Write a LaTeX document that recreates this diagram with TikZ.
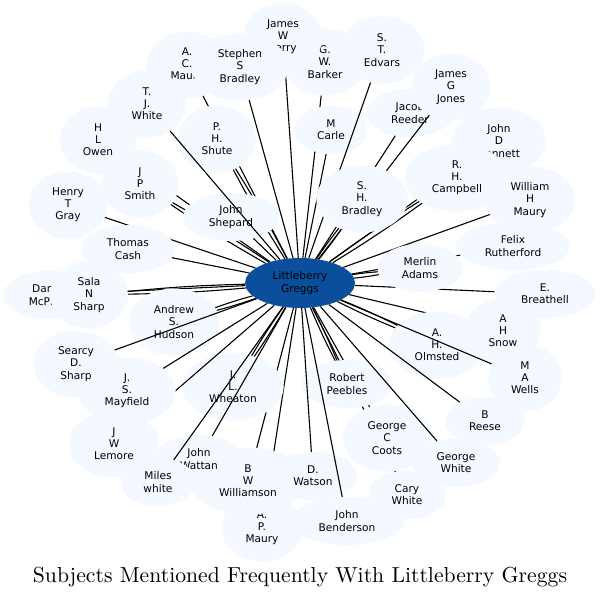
\documentclass[tikz,border=0pt]{standalone}
\usepackage{fontspec}
\newfontfamily\dejavu{DejaVu Sans}
\newfontfamily\titlefont{lmroman10-regular}[Extension=.otf]
\usetikzlibrary{shapes.geometric}
\definecolor{nodefill}{HTML}{F4F8FF}
\definecolor{centerfill}{HTML}{0B4F9C}
\tikzset{
  nd/.style={ellipse, fill=nodefill, inner xsep=12pt, inner ysep=0pt, align=center,
    font={\dejavu\fontsize{10.6}{12.2}\selectfont}},
  two/.style={nd, minimum height=48pt},
  three/.style={nd, minimum height=67pt},
  hub/.style={ellipse, fill=centerfill, minimum width=110pt, minimum height=50pt, inner sep=0pt, align=center,
    font={\dejavu\fontsize{10.6}{12.2}\selectfont}},
  edge/.style={draw=black, line width=1.1pt},
  bl/.style={edge, bend left=2},
  br/.style={edge, bend right=2},
  titlestyle/.style={font={\titlefont\fontsize{21.7}{24}\selectfont}}
}
\begin{document}
\begin{tikzpicture}[x=1pt,y=-1pt]
\useasboundingbox (0,0) rectangle (600,598);
\fill[white] (0,0) rectangle (600,598);
\node[hub] (c) at (300,283) {Littleberry\\Greggs};

\node[two] (dan) at (49,295) {Daniel\\McPhail};
\draw[edge] (c) -- (dan);
\node[three] (sala) at (89,295) {Sala\\N\\Sharp};
\draw[bl] (c) to (sala); \draw[br] (c) to (sala);
\node[three] (gray) at (68,205) {Henry\\T\\Gray};
\draw[edge] (c) -- (gray);
\node[three] (owen) at (98,140) {H\\L\\Owen};
\draw[edge] (c) -- (owen);
\node[three] (acm) at (187,65) {A.\\C.\\Maury};
\draw[edge] (c) -- (acm);
\node[three] (barker) at (325,62) {G.\\W.\\Barker};
\draw[edge] (c) -- (barker);
\node[three] (perry) at (283,37) {James\\W\\Perry};
\draw[edge] (c) -- (perry);
\node[three] (sbrad) at (240,67) {Stephen\\S\\Bradley};
\draw[edge] (c) -- (sbrad);
\node[three] (shute) at (217,139) {P.\\H.\\Shute};
\draw[bl] (c) to (shute); \draw[br] (c) to (shute);
\node[three] (smith) at (140,184) {J\\P\\Smith};
\draw[bl] (c) to (smith); \draw[br] (c) to (smith);
\node[two] (shep) at (231,217) {John\\Shepard};
\draw[edge] (c) -- (shep);
\node[three] (tjw) at (147,104) {T.\\J.\\White};
\draw[edge] (c) -- (tjw);
\node[two] (cash) at (128,249) {Thomas\\Cash};
\draw[edge] (c) -- (cash);
\node[two] (carle) at (331,130) {M\\Carle};
\draw[edge] (c) -- (carle);
\node[three] (edvars) at (382,50) {S.\\T.\\Edvars};
\draw[edge] (c) -- (edvars);
\node[two] (reeder) at (410,113) {Jacob\\Reeder};
\draw[edge] (c) -- (reeder);
\node[three] (jones) at (451,87) {James\\G\\Jones};
\draw[edge] (c) -- (jones);
\node[three] (bennett) at (499,141) {John\\D\\Bennett};
\draw[edge] (c) -- (bennett);
\node[three] (campbell) at (457,178) {R.\\H.\\Campbell};
\draw[bl] (c) to (campbell); \draw[br] (c) to (campbell);
\node[three] (shbrad) at (362,199) {S.\\H.\\Bradley};
\draw[bl] (c) to (shbrad); \draw[br] (c) to (shbrad);
\node[three] (wmaury) at (530,200) {William\\H\\Maury};
\draw[edge] (c) -- (wmaury);
\node[two] (felix) at (513,246) {Felix\\Rutherford};
\draw[edge] (c) -- (felix);
\node[two] (breath) at (545,294) {E.\\Breathell};
\draw[edge] (c) -- (breath);
\node[two] (merlin) at (420,268) {Merlin\\Adams};
\draw[bl] (c) to (merlin); \draw[br] (c) to (merlin);
\node[three] (snow) at (503,331) {A\\H\\Snow};
\draw[edge] (c) -- (snow);
\node[three] (olm) at (437,345) {A.\\H.\\Olmsted};
\draw[bl] (c) to (olm); \draw[br] (c) to (olm);
\node[three] (wells) at (525,378) {M\\A\\Wells};
\draw[edge] (c) -- (wells);
\node[two] (reese) at (485,421) {B\\Reese};
\draw[edge] (c) -- (reese);
\node[two] (cary) at (407,495) {Cary\\White};
\draw[edge] (c) -- (cary);
\node[three] (coots) at (387,438) {George\\C\\Coots};
\draw[edge] (c) -- (coots);
\node[two] (peebles) at (347,384) {Robert\\Peebles};
\draw[bl] (c) to (peebles); \draw[br] (c) to (peebles);
\node[two] (gwhite) at (456,463) {George\\White};
\draw[edge] (c) -- (gwhite);
\node[three] (apm) at (262,528) {A.\\P.\\Maury};
\draw[edge] (c) -- (apm);
\node[three] (wms) at (248,481) {B\\W\\Williamson};
\draw[edge] (c) -- (wms);
\node[two] (watson) at (313,476) {D.\\Watson};
\draw[edge] (c) -- (watson);
\node[two] (bender) at (347,521) {John\\Benderson};
\draw[edge] (c) -- (bender);
\node[three] (wheat) at (233,387) {J.\\L.\\Wheaton};
\draw[bl] (c) to (wheat); \draw[br] (c) to (wheat);
\node[three] (lemore) at (114,444) {J\\W\\Lemore};
\draw[edge] (c) -- (lemore);
\node[two] (wattan) at (199,459) {John\\Wattan};
\draw[edge] (c) -- (wattan);
\node[two] (miles) at (158,482) {Miles\\white};
\draw[edge] (c) -- (miles);
\node[three] (hudson) at (174,322) {Andrew\\S.\\Hudson};
\draw[bl] (c) to (hudson); \draw[br] (c) to (hudson);
\node[three] (mayf) at (127,391) {J.\\S.\\Mayfield};
\draw[edge] (c) -- (mayf);
\node[three] (searcy) at (76,364) {Searcy\\D.\\Sharp};
\draw[edge] (c) -- (searcy);

\node[titlestyle] (title) at (300,577) {Subjects Mentioned Frequently With Littleberry Greggs};
\end{tikzpicture}
\end{document}
